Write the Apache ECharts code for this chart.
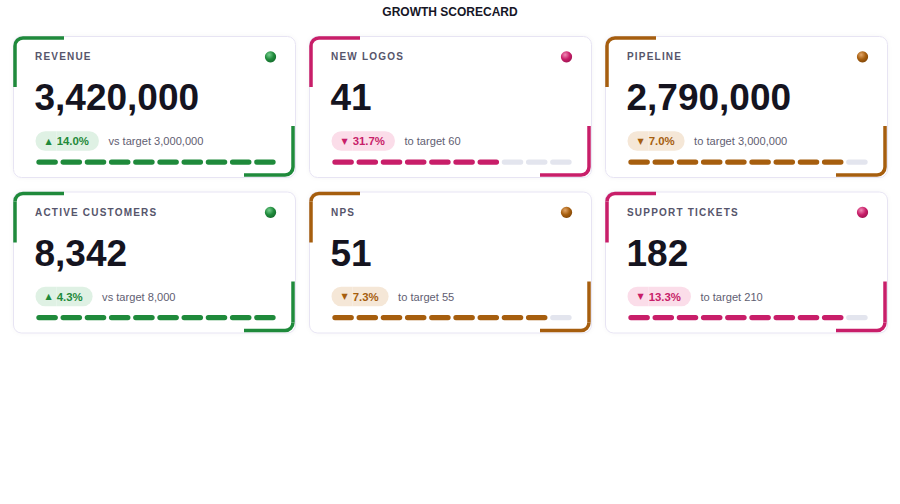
<!DOCTYPE html>
<html>
<head>
<meta charset="utf-8">
<script src="https://cdn.jsdelivr.net/npm/echarts@6/dist/echarts.min.js"></script>
<style>
  html, body { margin: 0; padding: 0; background: #ffffff; }
  #chart { width: 900px; height: 504px; }
  #chart text[style*="bold 10px"], #chart text.kpi-title { letter-spacing: 1.2px; }
</style>
</head>
<body>
<div id="chart"></div>
<script>
// ---- data ----
const chartTitle = 'GROWTH SCORECARD';
const categories = ['REVENUE', 'NEW LOGOS', 'PIPELINE', 'ACTIVE CUSTOMERS', 'NPS', 'SUPPORT TICKETS'];
const values = [3420000, 41, 2790000, 8342, 51, 182];
const targets = [3000000, 60, 3000000, 8000, 55, 210];
const deltas = [14.0, -31.7, -7.0, 4.3, -7.3, -13.3];
const targetLabels = ['vs target', 'to target', 'to target', 'vs target', 'to target', 'to target'];
const filledSegments = [10, 7, 9, 10, 9, 9];
const statuses = ['good', 'bad', 'warn', 'good', 'warn', 'bad'];
const segmentSlots = ['1', '2', '3', '4', '5', '6', '7', '8', '9', '10'];

// ---- styles ----
const palette = {
  good: { main: '#1f8a3b', light: '#dff1e4', hi: '#74cc8c', dark: '#156b2c' },
  bad:  { main: '#c81e69', light: '#fbdde9', hi: '#f08ab5', dark: '#9c1450' },
  warn: { main: '#a65e0e', light: '#f5e7d7', hi: '#e2a566', dark: '#7f4608' }
};
const emptySeg = '#e3e5ee';
const FONT = '"Liberation Sans", Arial, Helvetica, sans-serif';

const cardW = 282, cardH = 141;
function cardPos(i) {
  const col = i % 3, row = Math.floor(i / 3);
  return { x: 13 + col * 296, y: 36 + row * 155.5 };
}
function fmt(n) { return n.toLocaleString('en-US'); }

const graphic = [];
const grids = [], xAxes = [], yAxes = [], series = [];

graphic.push({
  type: 'text', x: 450, y: 12, silent: true,
  style: { text: chartTitle, font: 'bold 12px ' + FONT, fill: '#161626', align: 'center', verticalAlign: 'middle' }
});

categories.forEach((name, i) => {
  const p = cardPos(i);
  const c = palette[statuses[i]];
  const x0 = p.x, y0 = p.y, w = cardW, h = cardH;

  graphic.push({
    type: 'rect', shape: { x: x0 + 0.5, y: y0 + 0.5, width: w, height: h, r: 8 },
    style: { fill: '#ffffff', stroke: '#e7e4f3', lineWidth: 1, shadowBlur: 4, shadowColor: 'rgba(40,30,90,0.04)' },
    silent: true, z: 0
  });
  // accent corners
  const ins = 2, L = 51, r = 8;
  const accent = { fill: null, stroke: c.main, lineWidth: 3.5, lineCap: 'butt' };
  graphic.push({ type: 'line', silent: true, z: 1,
    shape: { x1: x0 + ins, y1: y0 + L, x2: x0 + ins, y2: y0 + ins + r }, style: accent });
  graphic.push({ type: 'arc', silent: true, z: 1,
    shape: { cx: x0 + ins + r, cy: y0 + ins + r, r: r, startAngle: Math.PI, endAngle: Math.PI * 1.5, clockwise: true }, style: accent });
  graphic.push({ type: 'line', silent: true, z: 1,
    shape: { x1: x0 + ins + r, y1: y0 + ins, x2: x0 + L, y2: y0 + ins }, style: accent });

  graphic.push({ type: 'line', silent: true, z: 1,
    shape: { x1: x0 + w - ins, y1: y0 + h - L, x2: x0 + w - ins, y2: y0 + h - ins - r }, style: accent });
  graphic.push({ type: 'arc', silent: true, z: 1,
    shape: { cx: x0 + w - ins - r, cy: y0 + h - ins - r, r: r, startAngle: 0, endAngle: Math.PI * 0.5, clockwise: true }, style: accent });
  graphic.push({ type: 'line', silent: true, z: 1,
    shape: { x1: x0 + w - ins - r, y1: y0 + h - ins, x2: x0 + w - L, y2: y0 + h - ins }, style: accent });

  // title
  graphic.push({
    type: 'text', silent: true, z: 2, x: x0 + 22, y: y0 + 20.5,
    style: { text: name, font: 'bold 10px ' + FONT, fill: '#56556b', verticalAlign: 'middle', align: 'left' }
  });
  // dot
  graphic.push({
    type: 'circle', silent: true, z: 2,
    shape: { cx: x0 + w - 24.5, cy: y0 + 20.8, r: 5.6 },
    style: {
      fill: {
        type: 'radial', x: 0.38, y: 0.32, r: 0.75,
        colorStops: [{ offset: 0, color: c.hi }, { offset: 0.55, color: c.main }, { offset: 1, color: c.dark }]
      }
    }
  });
  // value
  graphic.push({
    type: 'text', silent: true, z: 2, x: x0 + 21.5, y: y0 + 61.5,
    style: { text: fmt(values[i]), font: 'bold 37px ' + FONT, fill: '#15141f', verticalAlign: 'middle', align: 'left' }
  });
  // badge + target
  const d = deltas[i];
  const arrow = d >= 0 ? '\u25B2' : '\u25BC';
  const pct = Math.abs(d).toFixed(1) + '%';
  const detail = targetLabels[i] + ' ' + fmt(targets[i]);
  graphic.push({
    type: 'text', silent: true, z: 2, x: x0 + 22.5, y: y0 + 105,
    style: {
      text: '{a|' + arrow + '}{b|' + pct + '}{s|}{t|' + detail + '}',
      verticalAlign: 'middle', align: 'left',
      rich: {
        a: { font: '8px "DejaVu Sans", sans-serif', fill: c.main, backgroundColor: c.light,
             borderRadius: [10, 0, 0, 10], padding: [4, 5, 4, 10], lineHeight: 11.5, height: 11.5 },
        b: { font: 'bold 11.4px ' + FONT, fill: c.main, backgroundColor: c.light,
             borderRadius: [0, 10, 10, 0], padding: [4, 10, 4, 0], lineHeight: 11.5, height: 11.5 },
        s: { width: 9.5, height: 11.5 },
        t: { font: '11.1px ' + FONT, fill: '#5f5e72', lineHeight: 11.5 }
      }
    }
  });

  // segments as bar series
  grids.push({ left: x0 + 22, top: y0 + 123.4, width: 242, height: 5.3, containLabel: false });
  xAxes.push({ type: 'category', gridIndex: i, data: segmentSlots, show: false, boundaryGap: true });
  yAxes.push({ type: 'value', gridIndex: i, min: 0, max: 1, show: false });
  series.push({
    type: 'bar', xAxisIndex: i, yAxisIndex: i, silent: true, barCategoryGap: '11%',
    data: segmentSlots.map((s, k) => ({
      value: 1,
      itemStyle: { color: k < filledSegments[i] ? c.main : emptySeg, borderRadius: 2.6 }
    }))
  });
});

const chart = echarts.init(document.getElementById('chart'), null, { renderer: 'svg' });
chart.setOption({
  animation: false,
  backgroundColor: '#ffffff',
  grid: grids, xAxis: xAxes, yAxis: yAxes, series: series,
  graphic: graphic
});

function applySpacing() {
  const names = new Set(categories);
  document.querySelectorAll('#chart text, #chart tspan').forEach(t => {
    if (names.has((t.textContent || '').trim())) {
      const el = t.tagName.toLowerCase() === 'tspan' ? t.parentNode : t;
      el.classList.add('kpi-title');
      el.setAttribute('letter-spacing', '1.2');
    }
  });
}
applySpacing();
chart.on('finished', applySpacing);
requestAnimationFrame(applySpacing);
setTimeout(applySpacing, 50);
setTimeout(applySpacing, 200);
new MutationObserver(applySpacing).observe(document.getElementById('chart'), { childList: true, subtree: true });
</script>
</body>
</html>
